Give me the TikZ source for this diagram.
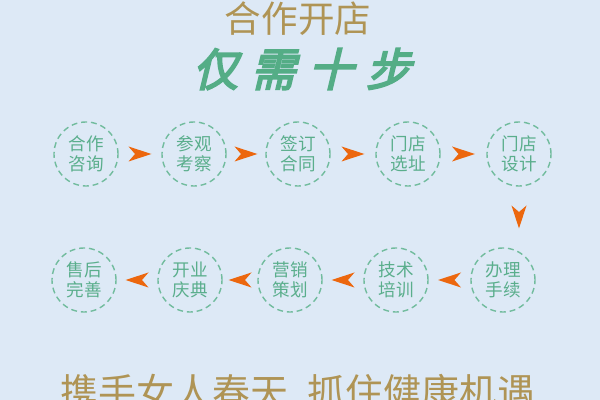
\documentclass[tikz,border=0pt]{standalone}
\usepackage{fontspec}
\setmainfont{Noto Sans CJK SC}
\newfontfamily\headfont[FakeSlant=0.24,FakeBold=4]{Noto Sans CJK SC}
\usetikzlibrary{calc}
\definecolor{bgblue}{HTML}{DDE9F6}
\definecolor{titlegold}{HTML}{AF9455}
\definecolor{headgreen}{HTML}{54AD86}
\definecolor{ringgreen}{HTML}{72BC9E}
\definecolor{stepgreen}{HTML}{5AAE8C}
\definecolor{dartorange}{HTML}{EC670E}

\begin{document}
\begin{tikzpicture}[x=0.025cm,y=-0.025cm,
  stepcirc/.style={circle,draw=ringgreen,line width=1pt,dash pattern=on 4.2pt off 2.8pt,minimum size=1.6cm,inner sep=0pt,align=center,text=stepgreen,font=\fontsize{12.5}{14.2}\selectfont},
  dart/.pic={\fill[dartorange] (-11.5,-7.5) -- (11.5,0) -- (-11.5,7.5) -- (-5,0) -- cycle;}]
\useasboundingbox (0,0) rectangle (600,400);
\clip (0,0) rectangle (600,400);
\fill[bgblue] (0,0) rectangle (600,400);
% headings
\node[text=titlegold,font=\fontsize{26}{26}\selectfont] (title) at (298,19) {合作开店};
\node[text=headgreen,font=\headfont\fontsize{32}{32}\selectfont] (head) at (302,69) {仅\hspace{9pt}需\hspace{9pt}十\hspace{9pt}步};
% first row
\node[stepcirc] (c1) at (86,154)  {合作\\咨询};
\node[stepcirc] (c2) at (194,154) {参观\\考察};
\node[stepcirc] (c3) at (298,154) {签订\\合同};
\node[stepcirc] (c4) at (408,154) {门店\\选址};
\node[stepcirc] (c5) at (519,154) {门店\\设计};
% second row
\node[stepcirc] (c6)  at (503,280) {办理\\手续};
\node[stepcirc] (c7)  at (396,280) {技术\\培训};
\node[stepcirc] (c8)  at (290,280) {营销\\策划};
\node[stepcirc] (c9)  at (190,280) {开业\\庆典};
\node[stepcirc] (c10) at (84,280)  {售后\\完善};
% arrows
\pic at ($(c1)!0.5!(c2)$) {dart};
\pic at ($(c2)!0.5!(c3)$) {dart};
\pic at ($(c3)!0.5!(c4)$) {dart};
\pic at ($(c4)!0.5!(c5)$) {dart};
\pic[rotate=-90] at ($(c5)!0.5!(c5|-c6)$) {dart};
\pic[rotate=180] at ($(c6)!0.5!(c7)$) {dart};
\pic[rotate=180] at ($(c7)!0.5!(c8)$) {dart};
\pic[rotate=180] at ($(c8)!0.5!(c9)$) {dart};
\pic[rotate=180] at ($(c9)!0.5!(c10)$) {dart};
% motto
\node[text=titlegold,font=\fontsize{27}{27}\selectfont] (motto) at (298,392) {携手女人春天\hspace{14pt}抓住健康机遇};
\end{tikzpicture}
\end{document}
